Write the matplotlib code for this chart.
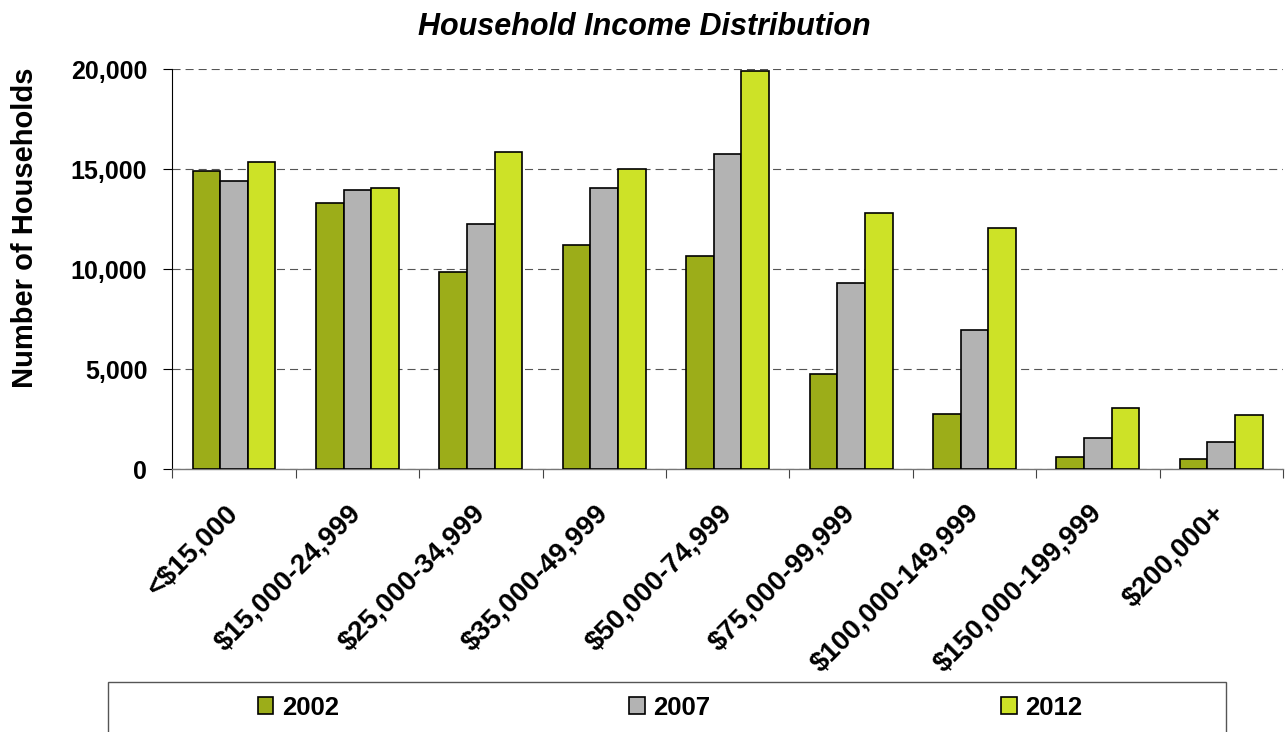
import matplotlib
matplotlib.use("Agg")
import matplotlib.pyplot as plt
from matplotlib.patches import Rectangle, Patch
from matplotlib.ticker import FuncFormatter, FixedLocator
import matplotlib.transforms as mtransforms
import numpy as np

plt.rcParams['font.family'] = ['Liberation Sans', 'DejaVu Sans']
plt.rcParams['lines.scale_dashes'] = False

categories = ["<$15,000", "$15,000-24,999", "$25,000-34,999", "$35,000-49,999",
              "$50,000-74,999", "$75,000-99,999", "$100,000-149,999",
              "$150,000-199,999", "$200,000+"]
years = ["2002", "2007", "2012"]
v2002 = [14930, 13330, 9850, 11215, 10680, 4765, 2750, 615, 515]
v2007 = [14400, 13970, 12280, 14080, 15765, 9315, 6980, 1580, 1365]
v2012 = [15350, 14080, 15880, 15030, 19930, 12815, 12065, 3065, 2730]
series = [v2002, v2007, v2012]
colors = ["#9CAD19", "#B3B3B3", "#CDE227"]

W, H = 1287, 732
fig = plt.figure(figsize=(W / 100, H / 100), dpi=100)
ax = fig.add_axes([172.3 / W, 1 - 469.3 / H, (1283 - 172.3) / W, 400 / H])

x = np.arange(len(categories))
bw = 0.224
for i, (vals, c) in enumerate(zip(series, colors)):
    ax.bar(x + (i - 1) * bw, vals, width=bw, color=c, edgecolor="black",
           linewidth=1.2, zorder=3)

ax.set_xlim(-0.5, len(categories) - 0.5)
ax.set_ylim(0, 20000)
ax.set_yticks([0, 5000, 10000, 15000, 20000])
ax.yaxis.set_major_formatter(FuncFormatter(lambda v, p: f"{int(v):,}"))
ax.grid(axis="y", color="#555555", linewidth=0.8, linestyle=(0, (5.8, 3.6)), zorder=0)
ax.set_axisbelow(True)

for s in ["top", "right"]:
    ax.spines[s].set_visible(False)
ax.spines["left"].set_color("black")
ax.spines["left"].set_linewidth(0.8)
ax.spines["bottom"].set_color("#777777")
ax.spines["bottom"].set_linewidth(1.0)

ax.tick_params(axis="y", direction="out", length=6.5, width=0.8, pad=11.5,
               labelsize=18, color="black")
for t in ax.get_yticklabels():
    t.set_fontweight("bold")

ax.set_xticks(x)
ax.set_xticklabels(categories, rotation=45, ha="right", va="center",
                   rotation_mode="anchor", fontsize=20, fontweight="bold")
shift = mtransforms.ScaledTranslation(-2 / 72, 0, fig.dpi_scale_trans)
for t in ax.get_xticklabels():
    t.set_transform(t.get_transform() + shift)
ax.xaxis.set_minor_locator(FixedLocator(np.arange(len(categories) + 1) - 0.5))
ax.tick_params(axis="x", which="major", length=0, pad=28.6)
ax.tick_params(axis="x", which="minor", direction="out", length=6.5, width=0.8,
               color="#444444")

fig.text(644 / W, 1 - 35 / H, "Household Income Distribution", ha="center",
         va="baseline", fontsize=22, fontweight="bold", fontstyle="italic")
fig.text(33 / W, 1 - 228 / H, "Number of Households", rotation=90,
         ha="center", va="baseline", rotation_mode="anchor",
         fontsize=21, fontweight="bold")

# legend frame
fig.patches.append(Rectangle((108.3 / W, -0.05), (1225.7 - 108.3) / W,
                             0.05 + 1 - 681.7 / H, transform=fig.transFigure,
                             facecolor="white", edgecolor="#555555",
                             linewidth=1.0, zorder=0))
handles = [Patch(facecolor=c, edgecolor="black", linewidth=1.2) for c in colors]
fig.legend(handles, years, loc="center", bbox_to_anchor=(670 / W, 1 - 707.7 / H),
           ncol=3, frameon=False, prop={"weight": "bold", "size": 18.5},
           handlelength=0.607, handleheight=0.607, handletextpad=0.34,
           columnspacing=11.3)

fig.savefig("out.png", dpi=100)
